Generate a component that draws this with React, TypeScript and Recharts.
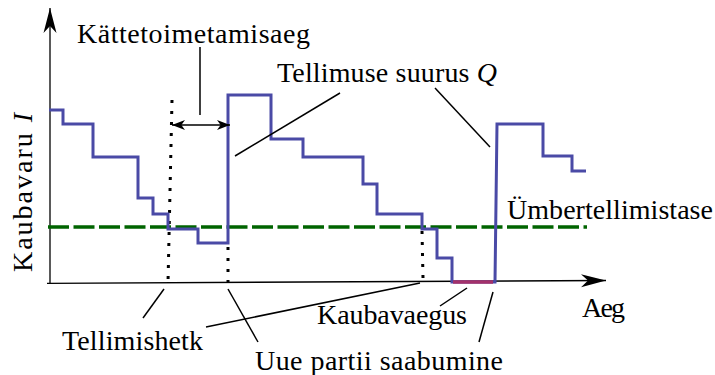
import type { ReactElement } from 'react';
import { ComposedChart, Line, XAxis, YAxis, ReferenceLine } from 'recharts';

// kaubavaru murdepunktid (aeg, tase)
const stockTime = [-1, 13, 13, 43, 43, 88, 88, 103, 103, 118, 118, 148, 148, 178, 178, 221, 221, 253, 253, 313, 313, 327, 327, 372, 372, 387, 387, 402, 402, 445, 447, 493, 493, 522, 522, 536];
const stockLevel = [173, 173, 159, 159, 126, 126, 85, 85, 69, 69, 54, 54, 40, 40, 188, 188, 144, 144, 126, 126, 99, 99, 69, 69, 54, 54, 25, 25, 1, 1, 159, 159, 127, 127, 112, 112];

// ümbertellimistase
const reorderLevel = 56;
const reorderSpan = [-2, 537];

// kaubavaegus
const stockoutSpan = [403, 443];
const stockoutLevel = 1;

// tellimishetked ja saabumised (punktiirjooned): [t ülal, I ülal, t all, I all]
const markerLines = [
  [122, 183, 118, 0],
  [178, 36, 178, 0],
  [372, 52, 373, 5],
];

// kättetoimetamisaeg
const leadTimeSpan = [122, 180];
const leadTimeLevel = 158;

// viitejooned siltidelt
const leaders = [
  [150, 236, 150, 168],
  [290, 190, 185, 127],
  [385, 195, 440, 136],
  [114, -6, 93, -35],
  [178, -6, 208, -59],
  [156, -44, 370, 0],
  [417, -5, 390, -23],
  [443, -9, 429, -59],
];

const stockData = stockTime.map((t, i) => ({ t, inv: stockLevel[i] }));
const reorderData = reorderSpan.map((t) => ({ t, inv: reorderLevel }));
const stockoutData = stockoutSpan.map((t) => ({ t, inv: stockoutLevel }));

const blue = '#4a4aa6';
const txt = { fontFamily: '"Liberation Serif", serif', fontSize: 28 };

type ArrowProps = {
  x1?: number; y1?: number; x2?: number; y2?: number;
  start?: boolean; end?: boolean; len: number; half: number; width: number;
};

function head(tx: number, ty: number, fx: number, fy: number, len: number, half: number) {
  const dx = tx - fx;
  const dy = ty - fy;
  const d = Math.hypot(dx, dy) || 1;
  const ux = dx / d;
  const uy = dy / d;
  const nx = -uy;
  const ny = ux;
  const bx = tx - ux * len;
  const by = ty - uy * len;
  const mx = tx - ux * len * 0.72;
  const my = ty - uy * len * 0.72;
  return `${tx},${ty} ${bx + nx * half},${by + ny * half} ${mx},${my} ${bx - nx * half},${by - ny * half}`;
}

function ArrowLine({ x1 = 0, y1 = 0, x2 = 0, y2 = 0, start, end, len, half, width }: ArrowProps): ReactElement {
  return (
    <g>
      <line x1={x1} y1={y1} x2={x2} y2={y2} stroke="#000" strokeWidth={width} />
      {start && <polygon points={head(x1, y1, x2, y2, len, half)} fill="#000" />}
      {end && <polygon points={head(x2, y2, x1, y1, len, half)} fill="#000" />}
    </g>
  );
}

export default function App() {
  return (
    <div style={{ position: 'absolute', left: 0, top: 0, width: 715, height: 375, background: '#fff' }}>
      <ComposedChart width={715} height={375} margin={{ top: 0, right: 0, bottom: 0, left: 0 }}>
        <XAxis dataKey="t" type="number" domain={[-50, 665]} allowDataOverflow hide />
        <YAxis type="number" domain={[-92, 283]} allowDataOverflow hide />

        {/* teljed */}
        <ReferenceLine
          ifOverflow="visible"
          segment={[{ x: 0, y: 0 }, { x: 0, y: 275 }]}
          shape={(p: any) => <ArrowLine {...p} end len={25} half={6.5} width={1.3} />}
        />
        <ReferenceLine
          ifOverflow="visible"
          segment={[{ x: -3, y: -0.3 }, { x: 556, y: 2.5 }]}
          shape={(p: any) => <ArrowLine {...p} end len={25} half={6.5} width={1.3} />}
        />

        <Line data={reorderData} dataKey="inv" stroke="#006400" strokeWidth={3.5} strokeDasharray="21 4.5"
          dot={false} activeDot={false} isAnimationActive={false} />

        {markerLines.map((m, i) => (
          <ReferenceLine key={`m${i}`} ifOverflow="visible"
            segment={[{ x: m[0], y: m[1] }, { x: m[2], y: m[3] }]}
            stroke="#000" strokeWidth={3} strokeDasharray="3 8" />
        ))}

        <Line data={stockData} dataKey="inv" type="linear" stroke={blue} strokeWidth={3}
          dot={false} activeDot={false} isAnimationActive={false} />
        <Line data={stockoutData} dataKey="inv" stroke="#a3316b" strokeWidth={3.5}
          dot={false} activeDot={false} isAnimationActive={false} />

        <ReferenceLine
          ifOverflow="visible"
          segment={[{ x: leadTimeSpan[0], y: leadTimeLevel }, { x: leadTimeSpan[1], y: leadTimeLevel }]}
          shape={(p: any) => <ArrowLine {...p} start end len={13} half={5} width={1.5} />}
        />

        {leaders.map((l, i) => (
          <ReferenceLine key={`l${i}`} ifOverflow="visible"
            segment={[{ x: l[0], y: l[1] }, { x: l[2], y: l[3] }]}
            stroke="#000" strokeWidth={1.5} />
        ))}
      </ComposedChart>

      <svg width={715} height={375} style={{ position: 'absolute', left: 0, top: 0, pointerEvents: 'none' }}>
        <text x={77} y={43} textLength={233} style={txt}>Kättetoimetamisaeg</text>
        <text x={277} y={82} textLength={220} style={txt}>
          Tellimuse suurus <tspan fontStyle="italic">Q</tspan>
        </text>
        <text x={507} y={219} textLength={206} style={txt}>Ümbertellimistase</text>
        <text x={582} y={317} textLength={43} style={txt}>Aeg</text>
        <text x={317} y={324} textLength={150} style={txt}>Kaubavaegus</text>
        <text x={62} y={350} textLength={141} style={txt}>Tellimishetk</text>
        <text x={255} y={370} textLength={248} style={txt}>Uue partii saabumine</text>
        <text x={32} y={272} textLength={159} transform="rotate(-90 32 272)" style={txt}>
          Kaubavaru <tspan fontStyle="italic">I</tspan>
        </text>
      </svg>
    </div>
  );
}
